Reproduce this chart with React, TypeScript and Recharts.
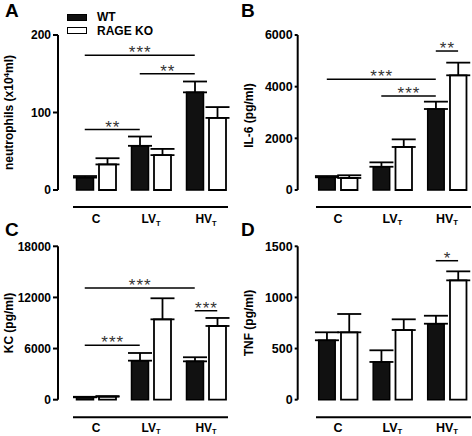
import React from "react";
import { BarChart, Bar, XAxis, YAxis, ErrorBar, ReferenceLine, Legend } from "recharts";

const groups = ["C", "LV", "HV"];
const seriesNames = ["WT", "RAGE KO"];

// A: neutrophils (x10^4/ml)
const neutroWT = [16, 57, 126];
const neutroWTErr = [2, 12, 14];
const neutroKO = [33, 45, 93];
const neutroKOErr = [8, 8, 14];
const neutroTicks = [0, 100, 200];

// B: IL-6 (pg/ml)
const il6WT = [490, 900, 3135];
const il6WTErr = [50, 170, 285];
const il6KO = [465, 1665, 4440];
const il6KOErr = [105, 295, 490];
const il6Ticks = [0, 2000, 4000, 6000];

// C: KC (pg/ml)
const kcWT = [280, 4580, 4500];
const kcWTErr = [60, 900, 480];
const kcKO = [350, 9430, 8650];
const kcKOErr = [70, 2470, 940];
const kcTicks = [0, 6000, 12000, 18000];

// D: TNF (pg/ml)
const tnfWT = [581, 369, 743];
const tnfWTErr = [78, 114, 78];
const tnfKO = [659, 681, 1167];
const tnfKOErr = [179, 105, 88];
const tnfTicks = [0, 500, 1000, 1500];

// significance brackets: from/to group, which bar (ko = RAGE KO), height, stars
type Sig = { from: string; to: string; toKO?: boolean; y: number; stars: string };

const neutroSig: Sig[] = [
  { from: "C", to: "HV", y: 174, stars: "***" },
  { from: "LV", to: "HV", y: 150, stars: "**" },
  { from: "C", to: "LV", y: 78, stars: "**" },
];
const il6Sig: Sig[] = [
  { from: "C", to: "HV", y: 4285, stars: "***" },
  { from: "LV", to: "HV", y: 3640, stars: "***" },
  { from: "HV", to: "HV", toKO: true, y: 5380, stars: "**" },
];
const kcSig: Sig[] = [
  { from: "C", to: "HV", y: 13100, stars: "***" },
  { from: "C", to: "LV", y: 6380, stars: "***" },
  { from: "HV", to: "HV", toKO: true, y: 10440, stars: "***" },
];
const tnfSig: Sig[] = [{ from: "HV", to: "HV", toKO: true, y: 1359, stars: "*" }];

const FONT = '"Liberation Sans", Arial, Helvetica, sans-serif';

type Geo = {
  left: number;
  top: number;
  axisX: number;
  plotTop: number;
  plotH: number;
  pad: number;
  band: number;
  barSize: number;
  gap: number;
  tickLen: number;
  tickFs: number;
  lineStart: number;
  lineDrop: number;
  labelDy: number;
  titleX: number;
  titleDy: number;
};

const geoA: Geo = { left: 0, top: 0, axisX: 58, plotTop: 35, plotH: 155, pad: 10.5, band: 55, barSize: 17, gap: 5.5, tickLen: 5, tickFs: 12, lineStart: 15, lineDrop: 17, labelDy: 33, titleX: 12.5, titleDy: 0 };
const geoB: Geo = { left: 236, top: 0, axisX: 61.7, plotTop: 35, plotH: 155, pad: 13, band: 54.5, barSize: 16.5, gap: 5.8, tickLen: 3, tickFs: 12.5, lineStart: 18.3, lineDrop: 17, labelDy: 33, titleX: 17, titleDy: 3 };
const geoC: Geo = { left: 0, top: 218, axisX: 58, plotTop: 28.3, plotH: 153.4, pad: 10.5, band: 55, barSize: 17, gap: 5.5, tickLen: 5, tickFs: 12, lineStart: 15, lineDrop: 17.6, labelDy: 32, titleX: 12.5, titleDy: 0 };
const geoD: Geo = { left: 236, top: 218, axisX: 61.7, plotTop: 28.3, plotH: 153.4, pad: 13, band: 54.5, barSize: 16.5, gap: 5.8, tickLen: 3, tickFs: 12.5, lineStart: 18.3, lineDrop: 17.6, labelDy: 32, titleX: 17, titleDy: 0 };

function GroupTick(props: any) {
  const { x, y, payload, labelDy, fs } = props;
  const name = String(payload.value);
  return (
    <text x={x} y={y + labelDy} textAnchor="middle" fontSize={fs} fontWeight="bold" fill="#000" fontFamily={FONT}>
      {name}
      {name !== "C" && (
        <tspan fontSize={fs * 0.62} dy={2.5}>
          T
        </tspan>
      )}
    </text>
  );
}

function AxisTitle(props: any) {
  const { viewBox, tx, tdy, children } = props;
  const cy = viewBox.y + viewBox.height / 2 + tdy;
  return (
    <text transform={`translate(${tx},${cy}) rotate(-90)`} textAnchor="middle" fontSize={12} fontWeight="bold" fill="#000" fontFamily={FONT}>
      {children}
    </text>
  );
}

function LegendBox(props: any) {
  const items = [...(props.payload || [])].sort(
    (a: any, b: any) => seriesNames.indexOf(a.value) - seriesNames.indexOf(b.value)
  );
  return (
    <div style={{ fontSize: 12, fontWeight: "bold", color: "#000", fontFamily: FONT }}>
      {items.map((it: any, i: number) => (
        <div key={i} style={{ display: "flex", alignItems: "center", height: 13.5 }}>
          <span
            style={{
              display: "inline-block",
              boxSizing: "border-box",
              width: 20,
              height: 7,
              background: it.value === seriesNames[0] ? "#111" : "#fff",
              border: "1.5px solid #000",
              marginRight: 10,
            }}
          />
          {it.value}
        </div>
      ))}
    </div>
  );
}

// bracket drawn between bar centres: category centres shifted by half a bar slot
function SigMark(props: any) {
  const { x1, x2, y1, dFrom, dTo, stars } = props;
  const a = x1 + dFrom;
  const b = x2 + dTo;
  return (
    <g>
      <line x1={a} x2={b} y1={y1} y2={y1} stroke="#000" strokeWidth={1.5} />
      <text x={(a + b) / 2 + 0.5} y={y1 + 3} textAnchor="middle" fontSize={17} fill="#333" letterSpacing={1} fontFamily={FONT}>
        {stars}
      </text>
    </g>
  );
}

// detached Prism-style x-axis line below the plot
function BaseLine(props: any) {
  const { x1, x2, y1, extL, extR, drop } = props;
  return <line x1={x1 - extL} x2={x2 + extR} y1={y1 + drop} y2={y1 + drop} stroke="#000" strokeWidth={2} />;
}

type PanelProps = {
  letter: string;
  geo: Geo;
  wt: number[];
  wtErr: number[];
  ko: number[];
  koErr: number[];
  ticks: number[];
  sig: Sig[];
  title: React.ReactNode;
  legend?: boolean;
};

function Panel({ letter, geo, wt, wtErr, ko, koErr, ticks, sig, title, legend }: PanelProps) {
  const data = groups.map((g, i) => ({
    group: g,
    wt: wt[i],
    wtErr: [0, wtErr[i]],
    ko: ko[i],
    koErr: [0, koErr[i]],
  }));
  const xAxisH = 45;
  const width = geo.axisX + geo.pad + 3 * geo.band + 2;
  const height = geo.plotTop + geo.plotH + xAxisH;
  const half = (geo.barSize + geo.gap) / 2;
  const extL = geo.pad + geo.band / 2 - geo.lineStart;
  const extR = geo.lineStart + 155 - geo.pad - 2.5 * geo.band;

  return (
    <div style={{ position: "absolute", left: geo.left, top: geo.top }}>
      <div style={{ position: "absolute", left: 5, top: geo.top === 0 ? 1 : 2, fontSize: 19, lineHeight: "19px", fontWeight: "bold", fontFamily: FONT }}>
        {letter}
      </div>
      <BarChart
        width={width}
        height={height}
        data={data}
        margin={{ top: geo.plotTop, right: 2, bottom: 0, left: 0 }}
        barGap={geo.gap}
        barSize={geo.barSize}
      >
        <XAxis
          dataKey="group"
          height={xAxisH}
          padding={{ left: geo.pad, right: 0 }}
          tickLine={false}
          tickSize={0}
          tickMargin={0}
          axisLine={false}
          tick={<GroupTick labelDy={geo.labelDy} fs={geo.tickFs} />}
        />
        <YAxis
          width={geo.axisX}
          domain={[0, ticks[ticks.length - 1]]}
          ticks={ticks}
          interval={0}
          tickSize={geo.tickLen}
          tickMargin={2}
          axisLine={{ stroke: "#000", strokeWidth: 2 }}
          tickLine={{ stroke: "#000", strokeWidth: 2 }}
          tick={{ fill: "#000", fontSize: geo.tickFs, fontWeight: "bold", fontFamily: FONT }}
          label={
            <AxisTitle tx={geo.titleX} tdy={geo.titleDy}>
              {title}
            </AxisTitle>
          }
        />
        {legend && (
          <Legend
            content={<LegendBox />}
            layout="vertical"
            align="center"
            verticalAlign="middle"
            wrapperStyle={{ left: 67, top: 10.3, width: 120, height: 28 }}
          />
        )}
        <Bar dataKey="wt" name={seriesNames[0]} fill="#111" stroke="#000" strokeWidth={1.5} isAnimationActive={false}>
          <ErrorBar dataKey="wtErr" width={12} stroke="#000" strokeWidth={1.8} direction="y" />
        </Bar>
        <Bar dataKey="ko" name={seriesNames[1]} fill="#fff" stroke="#000" strokeWidth={1.8} isAnimationActive={false}>
          <ErrorBar dataKey="koErr" width={12} stroke="#000" strokeWidth={1.8} direction="y" />
        </Bar>
        <ReferenceLine
          segment={[
            { x: groups[0], y: 0 },
            { x: groups[groups.length - 1], y: 0 },
          ]}
          shape={(p: any) => <BaseLine {...p} extL={extL} extR={extR} drop={geo.lineDrop} />}
        />
        {sig.map((s, i) => (
          <ReferenceLine
            key={i}
            segment={[
              { x: s.from, y: s.y },
              { x: s.to, y: s.y },
            ]}
            shape={(p: any) => (
              <SigMark {...p} dFrom={-half} dTo={s.toKO ? half : -half} stars={s.stars} />
            )}
          />
        ))}
      </BarChart>
    </div>
  );
}

export default function App() {
  return (
    <div
      style={{
        position: "absolute",
        left: 0,
        top: 0,
        width: 472,
        height: 436,
        overflow: "hidden",
        background: "#fff",
        fontFamily: FONT,
      }}
    >
      <Panel
        letter="A"
        geo={geoA}
        wt={neutroWT}
        wtErr={neutroWTErr}
        ko={neutroKO}
        koErr={neutroKOErr}
        ticks={neutroTicks}
        sig={neutroSig}
        legend
        title={
          <>
            neutrophils (x10
            <tspan fontSize={8} dy={-4}>
              4
            </tspan>
            <tspan dy={4}>ml)</tspan>
          </>
        }
      />
      <Panel letter="B" geo={geoB} wt={il6WT} wtErr={il6WTErr} ko={il6KO} koErr={il6KOErr} ticks={il6Ticks} sig={il6Sig} title="IL-6 (pg/ml)" />
      <Panel letter="C" geo={geoC} wt={kcWT} wtErr={kcWTErr} ko={kcKO} koErr={kcKOErr} ticks={kcTicks} sig={kcSig} title="KC (pg/ml)" />
      <Panel letter="D" geo={geoD} wt={tnfWT} wtErr={tnfWTErr} ko={tnfKO} koErr={tnfKOErr} ticks={tnfTicks} sig={tnfSig} title="TNF (pg/ml)" />
    </div>
  );
}
